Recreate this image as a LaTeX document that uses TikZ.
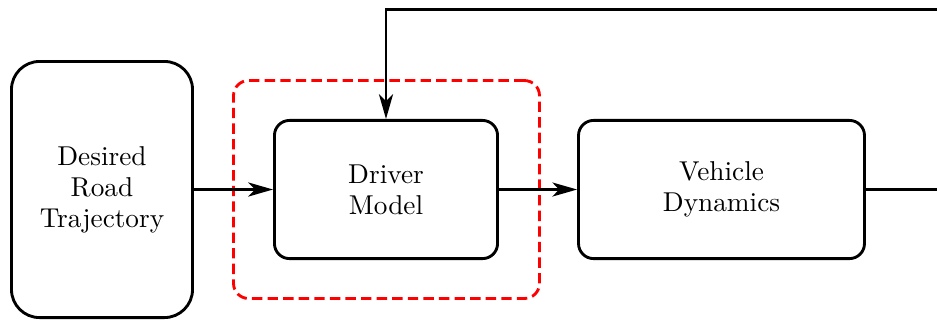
\documentclass[tikz,border=0pt]{standalone}
\usetikzlibrary{arrows.meta}
\begin{document}
\begin{tikzpicture}[x=0.385pt,y=-0.385pt,
  blk/.style={draw,line width=1.1pt,rounded corners=5.8pt,align=center,inner sep=0pt,font=\fontsize{10.5}{12}\selectfont},
  grp/.style={draw=red,line width=1.1pt,dash pattern=on 4pt off 2pt,rounded corners=5.8pt,inner sep=0pt},
  conn/.style={line width=1.1pt,-{Stealth[length=9.5pt,width=5.4pt,inset=2.6pt]}},
  plain/.style={line width=1.1pt}]
\useasboundingbox (0,0) rectangle (937,322);
\clip (0,0) rectangle (937,322);
\node[grp,minimum width=117.8pt,minimum height=83.9pt] (grp) at (386.5,189.5) {};
\node[blk,rounded corners=10.8pt,minimum width=69.7pt,minimum height=98.6pt] (des) at (102,189.5) {Desired\\Road\\Trajectory};
\node[blk,minimum width=85.9pt,minimum height=53.2pt] (drv) at (386,189.5) {Driver\\Model};
\node[blk,minimum width=110.1pt,minimum height=53.2pt] (veh) at (721.5,189.5) {Vehicle\\Dynamics};
\coordinate (out) at (950,189.5);
\coordinate (fb) at (950,9.5);
\draw[conn] (des) -- (drv);
\draw[conn] (drv) -- (veh);
\draw[plain] (veh) -- (out);
\draw[conn] (fb) -- (drv.north |- fb) -- (drv.north);
\end{tikzpicture}
\end{document}
